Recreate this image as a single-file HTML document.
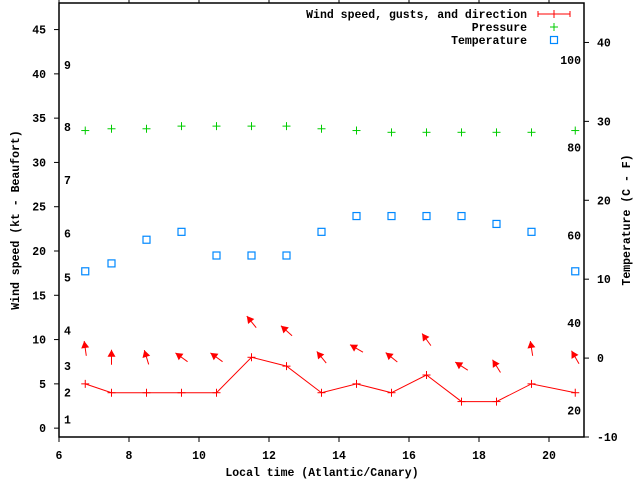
<!DOCTYPE html>
<html><head><meta charset="utf-8"><style>
body{margin:0;background:#fff}
svg text{font-family:"Liberation Mono",monospace;font-size:11.5px;font-weight:bold;fill:#000}
</style></head><body>
<svg id="c" width="640" height="480" viewBox="0 0 640 480"></svg>
<script>
const times=[6.75,7.5,8.5,9.5,10.5,11.5,12.5,13.5,14.5,15.5,16.5,17.5,18.5,19.5,20.75];
const windSpeed=[5,4,4,4,4,8,7,4,5,4,6,3,3,5,4];
const windHeading=[352,0,343,306,306,321,312,321,300,309,324,303,328,351,330];
const pressure=[33.6,33.8,33.8,34.1,34.1,34.1,34.1,33.8,33.6,33.4,33.4,33.4,33.4,33.4,33.6];
const temperature=[11,12,15,16,13,13,13,16,18,18,18,18,17,16,11];
const xTicks=[6,8,10,12,14,16,18,20];
const yTicks=[0,5,10,15,20,25,30,35,40,45];
const y2Ticks=[-10,0,10,20,30,40];
const beaufortLabels=["1","2","3","4","5","6","7","8","9"];
const beaufortKt=[1,4,7,11,17,22,28,34,41];
const fahrenheitTicks=[20,40,60,80,100];

const L=59,R=584,T=3,B=437;
const X=v=>L+(v-6)/(21-6)*(R-L);
const Y=v=>B-(v+1)/(48+1)*(B-T);
const Y2=v=>B-(v+10)/(45+10)*(B-T);
const svg=document.getElementById('c');
const NS='http://www.w3.org/2000/svg';
function mk(tag,attrs,parent){const e=document.createElementNS(NS,tag);for(const k in attrs)e.setAttribute(k,attrs[k]);(parent||svg).appendChild(e);return e;}
function txt(x,y,s,anchor,name){const t=mk('text',{x:x,y:y,'text-anchor':anchor||'middle'});t.textContent=s;


return t;}

const frame=mk('rect',{x:L,y:T,width:R-L,height:B-T,fill:'none',stroke:'#000','stroke-width':1.5});



xTicks.forEach(v=>{const x=X(v);
 mk('line',{x1:x,y1:B,x2:x,y2:B+5,stroke:'#000'});
 mk('line',{x1:x,y1:T,x2:x,y2:T-5,stroke:'#000'});
 txt(x,459,String(v),'middle','x-tick-label');});
yTicks.forEach(v=>{const y=Y(v);
 mk('line',{x1:L-5,y1:y,x2:L,y2:y,stroke:'#000'});
 txt(L-13,y+4,String(v),'end','y-tick-label');});
y2Ticks.forEach(v=>{const y=Y2(v);
 mk('line',{x1:R,y1:y,x2:R+5,y2:y,stroke:'#000'});
 txt(R+13,y+4,String(v),'start','y2-tick-label');});
beaufortLabels.forEach((s,i)=>txt(64,Y(beaufortKt[i])+4,s,'start','beaufort-label'));
fahrenheitTicks.forEach(f=>txt(581,Y2((f-32)*5/9)+4,String(f),'end','fahrenheit-label'));

txt(322,476,'Local time (Atlantic/Canary)','middle','x-axis-title');
const yt=txt(0,0,'Wind speed (kt - Beaufort)','middle','y-axis-title');
yt.setAttribute('transform','translate(19,220) rotate(-90)');
const y2t=txt(0,0,'Temperature (C - F)','middle','y2-axis-title');
y2t.setAttribute('transform','translate(630,220) rotate(-90)');

// wind line
const wl=mk('polyline',{points:times.map((t,i)=>X(t)+','+Y(windSpeed[i])).join(' '),fill:'none',stroke:'#f00','stroke-width':1});


function plus(x,y,c,s,name){const g=mk('g',{stroke:c,'stroke-width':1});
 mk('line',{x1:x-s,y1:y,x2:x+s,y2:y},g);mk('line',{x1:x,y1:y-s,x2:x,y2:y+s},g);
 
 }
times.forEach((t,i)=>plus(X(t),Y(windSpeed[i]),'#f00',4,'wind-point'));
// arrows
times.forEach((t,i)=>{const cx=X(t),cy=Y(windSpeed[i]+4);const a=windHeading[i]*Math.PI/180;
 const dx=Math.sin(a),dy=-Math.cos(a);const len=15;
 const hx=cx+dx*len/2,hy=cy+dy*len/2,tx=cx-dx*len/2,ty=cy-dy*len/2;
 const g=mk('g',{});
 
 
 mk('line',{x1:tx,y1:ty,x2:hx,y2:hy,stroke:'#f00','stroke-width':1},g);
 const px=-dy,py=dx,h=7,w=4;
 const bx=hx-dx*h,by=hy-dy*h;
 mk('polygon',{points:`${hx},${hy} ${bx+px*w},${by+py*w} ${bx-px*w},${by-py*w}`,fill:'#f00'},g);});
// pressure
times.forEach((t,i)=>plus(X(t),Y(pressure[i]),'#0c0',4,'pressure-point'));
// temperature
times.forEach((t,i)=>{const r=mk('rect',{x:X(t)-3.5,y:Y2(temperature[i])-3.5,width:7,height:7,fill:'none',stroke:'#08f','stroke-width':1.2});
 
 });

// legend
txt(527,18,'Wind speed, gusts, and direction','end','legend-wind-label');
const lg=mk('g',{stroke:'#f00'});


mk('line',{x1:538,y1:14,x2:570,y2:14},lg);mk('line',{x1:538,y1:11,x2:538,y2:17},lg);
mk('line',{x1:570,y1:11,x2:570,y2:17},lg);mk('line',{x1:554,y1:10,x2:554,y2:18},lg);
txt(527,31,'Pressure','end','legend-pressure-label');
plus(554,27,'#0c0',4,'legend-pressure-sample');
txt(527,44,'Temperature','end','legend-temperature-label');
const lr=mk('rect',{x:550.5,y:36.5,width:7,height:7,fill:'none',stroke:'#08f','stroke-width':1.2});


</script>
</body></html>
